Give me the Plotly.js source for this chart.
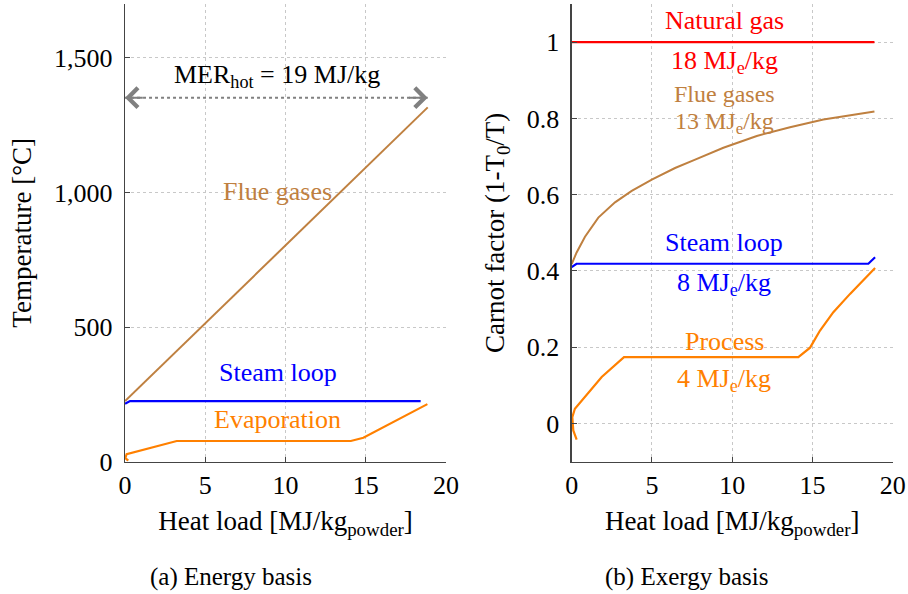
<!DOCTYPE html>
<html>
<head>
<meta charset="utf-8">
<script src="https://cdn.plot.ly/plotly-3.0.1.min.js"></script>
<style>html,body{margin:0;padding:0;background:#fff;}#chart{width:908px;height:594px;}</style>
</head>
<body>
<div id="chart"></div>
<script>
// ---- Data: (a) Energy basis ----
var energyFlueX = [0, 18.86];
var energyFlueY = [225, 1316];
var energySteamX = [0, 0.31, 18.42];
var energySteamY = [215, 225, 225];
var energyEvapX = [0.2, 0.02, 0.1, 3.22, 14.07, 14.85, 18.84];
var energyEvapY = [4, 14, 28, 77, 77, 89, 214];
var merArrowX = [0, 18.86];
var merArrowY = [1352, 1352];

// ---- Data: (b) Exergy basis ----
var exNatGasX = [0, 18.86];
var exNatGasY = [1, 1];
var exFlueX = [0, 0.3, 0.83, 1.66, 2.7, 3.74, 5.02, 6.44, 7.58, 9.45, 11.53, 13.6, 15.68, 18.86];
var exFlueY = [0.418, 0.448, 0.490, 0.540, 0.580, 0.610, 0.640, 0.670, 0.690, 0.723, 0.754, 0.777, 0.797, 0.818];
var exSteamX = [0, 0.3, 18.48, 18.9];
var exSteamY = [0.41, 0.419, 0.419, 0.436];
var exProcessX = [0.31, 0.1, 0.04, 0.2, 1.87, 3.26, 14.12, 14.85, 15.47, 16.3, 17.34, 18.9];
var exProcessY = [-0.042, -0.018, 0.017, 0.039, 0.122, 0.174, 0.174, 0.199, 0.244, 0.292, 0.340, 0.408];

var xTicks = [0, 5, 10, 15, 20];
var energyYTicks = [0, 500, 1000, 1500];
var exergyYTicks = [0, 0.2, 0.4, 0.6, 0.8, 1];

var BROWN = 'rgb(191,128,64)', BLUE = 'rgb(0,0,255)', ORANGE = 'rgb(255,128,0)', RED = 'rgb(255,0,0)';
var FONT = 'Liberation Serif';

var traces = [
  {x: energyFlueX, y: energyFlueY, xaxis: 'x', yaxis: 'y', mode: 'lines', line: {color: BROWN, width: 2}},
  {x: energySteamX, y: energySteamY, xaxis: 'x', yaxis: 'y', mode: 'lines', line: {color: BLUE, width: 2.2}},
  {x: energyEvapX, y: energyEvapY, xaxis: 'x', yaxis: 'y', mode: 'lines', line: {color: ORANGE, width: 2.2}},
  {x: merArrowX, y: merArrowY, xaxis: 'x', yaxis: 'y', mode: 'lines', line: {color: 'rgb(128,128,128)', width: 2, dash: 'dot'}},
  {x: exNatGasX, y: exNatGasY, xaxis: 'x2', yaxis: 'y2', mode: 'lines', line: {color: RED, width: 2.2}},
  {x: exFlueX, y: exFlueY, xaxis: 'x2', yaxis: 'y2', mode: 'lines', line: {color: BROWN, width: 2}},
  {x: exSteamX, y: exSteamY, xaxis: 'x2', yaxis: 'y2', mode: 'lines', line: {color: BLUE, width: 2.2}},
  {x: exProcessX, y: exProcessY, xaxis: 'x2', yaxis: 'y2', mode: 'lines', line: {color: ORANGE, width: 2.2}}
];

function axisBase(extra) {
  var a = {
    showline: true, linecolor: '#444', linewidth: 1.3, mirror: false,
    ticks: 'inside', ticklen: 5, tickcolor: '#444', tickwidth: 1,
    showgrid: true, gridcolor: '#c8c8c8', griddash: 'dot', gridwidth: 1,
    zeroline: false, tickfont: {family: FONT, size: 26, color: '#000'},
    fixedrange: true
  };
  for (var k in extra) a[k] = extra[k];
  return a;
}

var titleFont = {family: FONT, size: 27, color: '#000'};

function label(xref, yref, x, y, text, color, size) {
  return {xref: xref, yref: yref, x: x, y: y, text: text, showarrow: false,
    xanchor: 'center', yanchor: 'middle', font: {family: FONT, size: size || 26, color: color}};
}

var layout = {
  width: 908, height: 594,
  margin: {l: 0, r: 0, t: 0, b: 0},
  paper_bgcolor: '#fff', plot_bgcolor: '#fff',
  showlegend: false,
  font: {family: FONT, color: '#000'},
  xaxis: axisBase({domain: [0.1377, 0.4912], range: [0, 20], tickvals: xTicks, anchor: 'y',
    title: {text: 'Heat load [MJ/kg<sub>powder</sub>]', font: titleFont, standoff: 12}}),
  yaxis: axisBase({domain: [0.2227, 0.9933], range: [0, 1700], tickvals: energyYTicks, tickformat: ',d', anchor: 'x',
    ticklabelstandoff: 6,
    title: {text: 'Temperature [°C]', font: titleFont, standoff: 14}}),
  xaxis2: axisBase({domain: [0.6296, 0.9832], range: [0, 20], tickvals: xTicks, anchor: 'y2',
    title: {text: 'Heat load [MJ/kg<sub>powder</sub>]', font: titleFont, standoff: 12}}),
  yaxis2: axisBase({domain: [0.2227, 0.9933], range: [-0.1, 1.1], tickvals: exergyYTicks, anchor: 'x2',
    ticklabelstandoff: 6,
    title: {text: 'Carnot factor (1-T<sub>0</sub>/T)', font: titleFont, standoff: 14}}),
  annotations: [
    label('x', 'y', 9.45, 1432, 'MER<sub>hot</sub> = 19 MJ/kg', '#000'),
    {xref: 'x', yref: 'y', x: 0, y: 1352, ax: 1.2, ay: 1352, axref: 'x', ayref: 'y', text: '', showarrow: true, arrowhead: 4, arrowsize: 1.9, arrowwidth: 2, arrowcolor: 'rgb(128,128,128)', standoff: 0},
    {xref: 'x', yref: 'y', x: 18.86, y: 1352, ax: 17.6, ay: 1352, axref: 'x', ayref: 'y', text: '', showarrow: true, arrowhead: 4, arrowsize: 1.9, arrowwidth: 2, arrowcolor: 'rgb(128,128,128)', standoff: 0},
    label('x', 'y', 9.51, 1005, 'Flue gases', BROWN),
    label('x', 'y', 9.51, 330, 'Steam loop', BLUE),
    label('x', 'y', 9.51, 155, 'Evaporation', ORANGE),

    label('x2', 'y2', 9.49, 1.056, 'Natural gas', RED),
    label('x2', 'y2', 9.49, 0.947, '18 MJ<sub>e</sub>/kg', RED),
    label('x2', 'y2', 9.49, 0.863, 'Flue gases', BROWN, 24),
    label('x2', 'y2', 9.49, 0.787, '13 MJ<sub>e</sub>/kg', BROWN, 24),
    label('x2', 'y2', 9.49, 0.475, 'Steam loop', BLUE),
    label('x2', 'y2', 9.49, 0.366, '8 MJ<sub>e</sub>/kg', BLUE),
    label('x2', 'y2', 9.49, 0.214, 'Process', ORANGE),
    label('x2', 'y2', 9.49, 0.113, '4 MJ<sub>e</sub>/kg', ORANGE),

    {xref: 'paper', yref: 'paper', x: 0.254, y: 0.0286, text: '(a) Energy basis', showarrow: false, xanchor: 'center', yanchor: 'middle', font: {family: FONT, size: 25, color: '#000'}},
    {xref: 'paper', yref: 'paper', x: 0.756, y: 0.0286, text: '(b) Exergy basis', showarrow: false, xanchor: 'center', yanchor: 'middle', font: {family: FONT, size: 25, color: '#000'}}
  ]
};

Plotly.newPlot('chart', traces, layout, {displayModeBar: false, staticPlot: true});
</script>
</body>
</html>
